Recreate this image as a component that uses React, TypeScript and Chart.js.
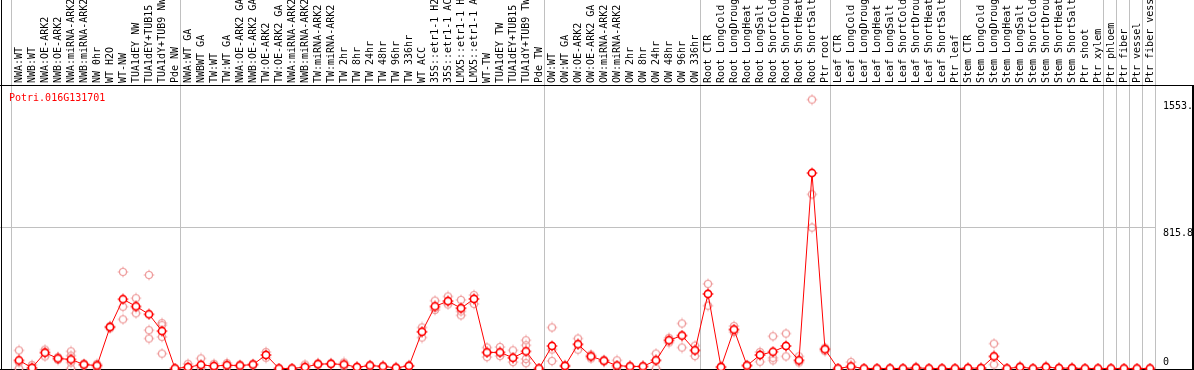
import React, { useEffect, useRef } from "react";
import { Chart, registerables } from "chart.js";

Chart.register(...registerables);

const geneId = "Potri.016G131701";

const sampleLabels = [
  "NWA:WT", "NWB:WT", "NWA:OE-ARK2", "NWB:OE-ARK2", "NWA:miRNA-ARK2", "NWB:miRNA-ARK2",
  "NW 0hr", "WT H2O", "WT-NW", "TUA1dEY NW", "TUA1dEY+TUB15 NW", "TUA1dY+TUB9 NW", "Pde NW",
  "NWA:WT GA", "NWBWT GA", "TW:WT", "TW:WT GA", "NWA:OE-ARK2 GA", "NWB:OE-ARK2 GA",
  "TW:OE-ARK2", "TW:OE-ARK2 GA", "NWA:miRNA-ARK2 GA", "NWB:miRNA-ARK2 GA", "TW:miRNA-ARK2",
  "TW:miRNA-ARK2 GA", "TW 2hr", "TW 8hr", "TW 24hr", "TW 48hr", "TW 96hr", "TW 336hr",
  "WT ACC", "35S::etr1-1 H2O", "35S::etr1-1 ACC", "LMX5::etr1-1 H2O", "LMX5::etr1-1 ACC",
  "WT-TW", "TUA1dEY TW", "TUA1dEY+TUB15 TW", "TUA1dY+TUB9 TW", "Pde TW",
  "OW:WT", "OW:WT GA", "OW:OE-ARK2", "OW:OE-ARK2 GA", "OW:miRNA-ARK2", "OW:miRNA-ARK2 GA",
  "OW 2hr", "OW 8hr", "OW 24hr", "OW 48hr", "OW 96hr", "OW 336hr",
  "Root CTR", "Root LongCold", "Root LongDrought", "Root LongHeat", "Root LongSalt",
  "Root ShortCold", "Root ShortDrought", "Root ShortHeat", "Root ShortSalt", "Ptr root",
  "Leaf CTR", "Leaf LongCold", "Leaf LongDrought", "Leaf LongHeat", "Leaf LongSalt",
  "Leaf ShortCold", "Leaf ShortDrought", "Leaf ShortHeat", "Leaf ShortSalt", "Ptr leaf",
  "Stem CTR", "Stem LongCold", "Stem LongDrought", "Stem LongHeat", "Stem LongSalt",
  "Stem ShortCold", "Stem ShortDrought", "Stem ShortHeat", "Stem ShortSalt", "Ptr shoot",
  "Ptr xylem", "Ptr phloem", "Ptr fiber", "Ptr vessel", "Ptr fiber vessel",
];

const groupSizes = [13, 28, 12, 10, 10, 11, 1, 1, 1, 1];

const meanValues = [
  47, 4, 91, 58, 52, 23, 17, 239, 400, 359, 313, 216, 0,
  8, 21, 14, 19, 17, 23, 78, 0, 0, 8, 25, 27, 23, 8, 17, 12, 4, 15, 212, 359, 389, 348, 402, 93, 93, 62, 99, 0,
  130, 15, 140, 70, 45, 17, 12, 12, 47, 163, 190, 105,
  431, 8, 225, 17, 78, 97, 130, 47, 1129, 111,
  0, 12, 0, 0, 0, 0, 4, 0, 0, 0,
  2, 2, 70, 0, 8, 0, 8, 2, 2, 0, 0,
  0, 0, 0, 0,
];

const replicateA = [
  105, 20, 109, 65, 99, 28, 27, 245, 558, 406, 540, 262, 0,
  27, 58, 27, 31, 22, 27, 95, 0, 0, 23, 30, 30, 35, 10, 20, 14, 6, 18, 237, 392, 416, 396, 424, 121, 124, 105, 163, 0,
  237, 20, 173, 80, 50, 47, 15, 14, 86, 177, 260, 132,
  489, 12, 245, 20, 95, 186, 202, 70, 1553, 120,
  0, 37, 0, 0, 0, 0, 8, 0, 0, 0,
  4, 4, 144, 0, 12, 0, 12, 4, 4, 0, 0,
  0, 0, 0, 0,
];

const replicateB = [
  36, 0, 95, 58, 74, 23, 17, 239, 357, 352, 221, 250, null,
  0, 5, 5, 8, 12, 19, 78, null, null, 0, 20, 24, 12, 6, 14, 10, 2, 12, 212, 350, 389, 348, 402, 93, 93, 62, 134, null,
  110, 10, 140, 70, 40, 5, 8, 10, 47, 163, 190, 105,
  431, 4, 225, 14, 78, 62, 130, 47, 1006, 111,
  null, 0, null, null, null, null, 0, null, null, null,
  0, 0, 70, null, 4, null, 4, 0, 0, null, null,
  null, null, null, null,
];

const replicateC = [
  0, 0, 70, 50, 0, 18, 5, 232, 284, 319, 173, 183, null,
  null, null, null, null, null, null, 62, null, null, null, null, null, null, null, null, null, null, null, 179, 338, 370, 330, 373, 66, 72, 37, 55, null,
  43, null, 109, 58, null, null, null, null, 0, 150, 121, 72,
  363, null, 210, null, 39, 47, 70, 35, 814, 100,
  null, null, null, null, null, null, null, null, null, null,
  null, null, 23, null, null, null, null, null, null, null, null,
  null, null, null, null,
];

const replicateD = [
  null, null, null, null, 35, null, null, null, null, null, null, 86, null,
  null, null, null, null, null, null, null, null, null, null, null, null, null, null, null, null, null, null, null, null, null, 307, null, null, null, null, 31, null,
  null, null, null, null, null, null, null, null, null, null, null, null,
  null, null, null, null, null, null, null, null, null, null,
  null, null, null, null, null, null, null, null, null, null,
  null, null, null, null, null, null, null, null, null, null, null,
  null, null, null, null,
];

const yAxisMax = 1631.6;
const yTickValues = [0, 815.8, 1553.2];
const yTickLabels = ["0", "815.8", "1553."];

const FONT = "10px 'DejaVu Sans Mono', monospace";

function makeMarker(color: string, lineWidth: number, r: number, fill: string | null) {
  const c = document.createElement("canvas");
  c.width = 12;
  c.height = 12;
  const g = c.getContext("2d")!;
  const cx = 6, cy = 6;
  if (fill) {
    g.fillStyle = fill;
    g.beginPath();
    g.arc(cx, cy, r, 0, Math.PI * 2);
    g.fill();
  }
  g.strokeStyle = color;
  g.lineWidth = lineWidth;
  g.beginPath();
  g.arc(cx, cy, r, 0, Math.PI * 2);
  g.stroke();
  g.lineWidth = 1;
  g.beginPath();
  g.moveTo(cx, cy - r - 1.8); g.lineTo(cx, cy - r);
  g.moveTo(cx, cy + r); g.lineTo(cx, cy + r + 1.8);
  g.moveTo(cx - r - 1.8, cy); g.lineTo(cx - r, cy);
  g.moveTo(cx + r, cy); g.lineTo(cx + r + 1.8, cy);
  g.stroke();
  return c;
}

const framePlugin = {
  id: "frame",
  beforeDatasetsDraw(chart: any) {
    const { ctx, scales } = chart;
    const xs = scales.x;
    const ys = scales.y;
    const W = chart.width;
    const H = chart.height;
    ctx.save();
    ctx.fillStyle = "#c0c0c0";
    let b = 0;
    const bounds = [0];
    groupSizes.forEach((s) => { b += s; bounds.push(b); });
    let lastX = 0;
    bounds.forEach((bi) => {
      const px = Math.round(xs.getPixelForValue(bi - 0.5) - 1.5);
      lastX = px;
      ctx.fillRect(px, 0, 1, H);
    });
    const gy = Math.floor(ys.getPixelForValue(yTickValues[1]));
    ctx.fillRect(0, gy, lastX + 1, 1);
    ctx.fillStyle = "#000000";
    ctx.fillRect(0, 85, W, 1);
    ctx.fillRect(1, 0, 1, H);
    ctx.fillRect(W - 2, 85, 2, H - 85);
    ctx.fillRect(0, H - 1, W, 1);
    ctx.restore();
  },
  afterDraw(chart: any) {
    const { ctx, chartArea, scales } = chart;
    const ys = scales.y;
    ctx.save();
    ctx.font = FONT;
    ctx.textBaseline = "alphabetic";
    ctx.textAlign = "left";
    ctx.fillStyle = "#ff0000";
    ctx.fillText(geneId, 9, 101);
    ctx.fillStyle = "#000000";
    yTickValues.forEach((v, i) => {
      const py = ys.getPixelForValue(v);
      const ty = v === 0 ? py - 3.5 : py + 9;
      ctx.fillText(yTickLabels[i], chartArea.right + 6.5, ty);
    });
    ctx.restore();
  },
};

export default function App() {
  const ref = useRef<HTMLCanvasElement | null>(null);
  useEffect(() => {
    document.body.style.margin = "0";
    const canvas = ref.current!;
    const meanMarker = makeMarker("#ff0000", 1.6, 3.6, "#ffffff");
    const repMarker = makeMarker("#ee9a9a", 1.2, 3.5, null);
    const reps = [replicateA, replicateB, replicateC, replicateD];
    const chart = new Chart(canvas, {
      type: "line",
      data: {
        labels: sampleLabels,
        datasets: [
          {
            label: "mean",
            data: meanValues,
            borderColor: "#ff0000",
            borderWidth: 1,
            pointStyle: meanMarker as any,
            pointRadius: 5,
            tension: 0,
            clip: false as any,
          },
          ...reps.map((arr, k) => ({
            label: "rep" + (k + 1),
            data: arr as any,
            showLine: false,
            borderColor: "#ee9a9a",
            pointStyle: repMarker as any,
            pointRadius: 5,
            clip: false as any,
          })),
        ],
      },
      options: {
        animation: false,
        responsive: false,
        devicePixelRatio: 1,
        layout: { autoPadding: false, padding: { left: 12.5, right: 0, top: 0, bottom: 1.5 } },
        plugins: { legend: { display: false }, tooltip: { enabled: false } },
        scales: {
          x: {
            type: "category",
            position: "top",
            offset: true,
            grid: { display: false, drawTicks: false, tickLength: 0 },
            border: { display: false },
            ticks: {
              autoSkip: false,
              minRotation: 90,
              maxRotation: 90,
              labelOffset: 12,
              color: "#000000",
              font: { family: "'DejaVu Sans Mono', monospace", size: 10 },
              padding: 3,
            },
            afterFit: (s: any) => { s.height = 86; },
          },
          y: {
            position: "right",
            min: 0,
            max: yAxisMax,
            grid: { display: false, drawTicks: false },
            border: { display: false },
            ticks: { display: false },
            afterFit: (s: any) => { s.width = 37.5; },
          },
        },
      },
      plugins: [framePlugin],
    } as any);
    return () => chart.destroy();
  }, []);
  return (
    <canvas
      ref={ref}
      width={1194}
      height={370}
      style={{ display: "block", width: "1194px", height: "370px" }}
    />
  );
}
